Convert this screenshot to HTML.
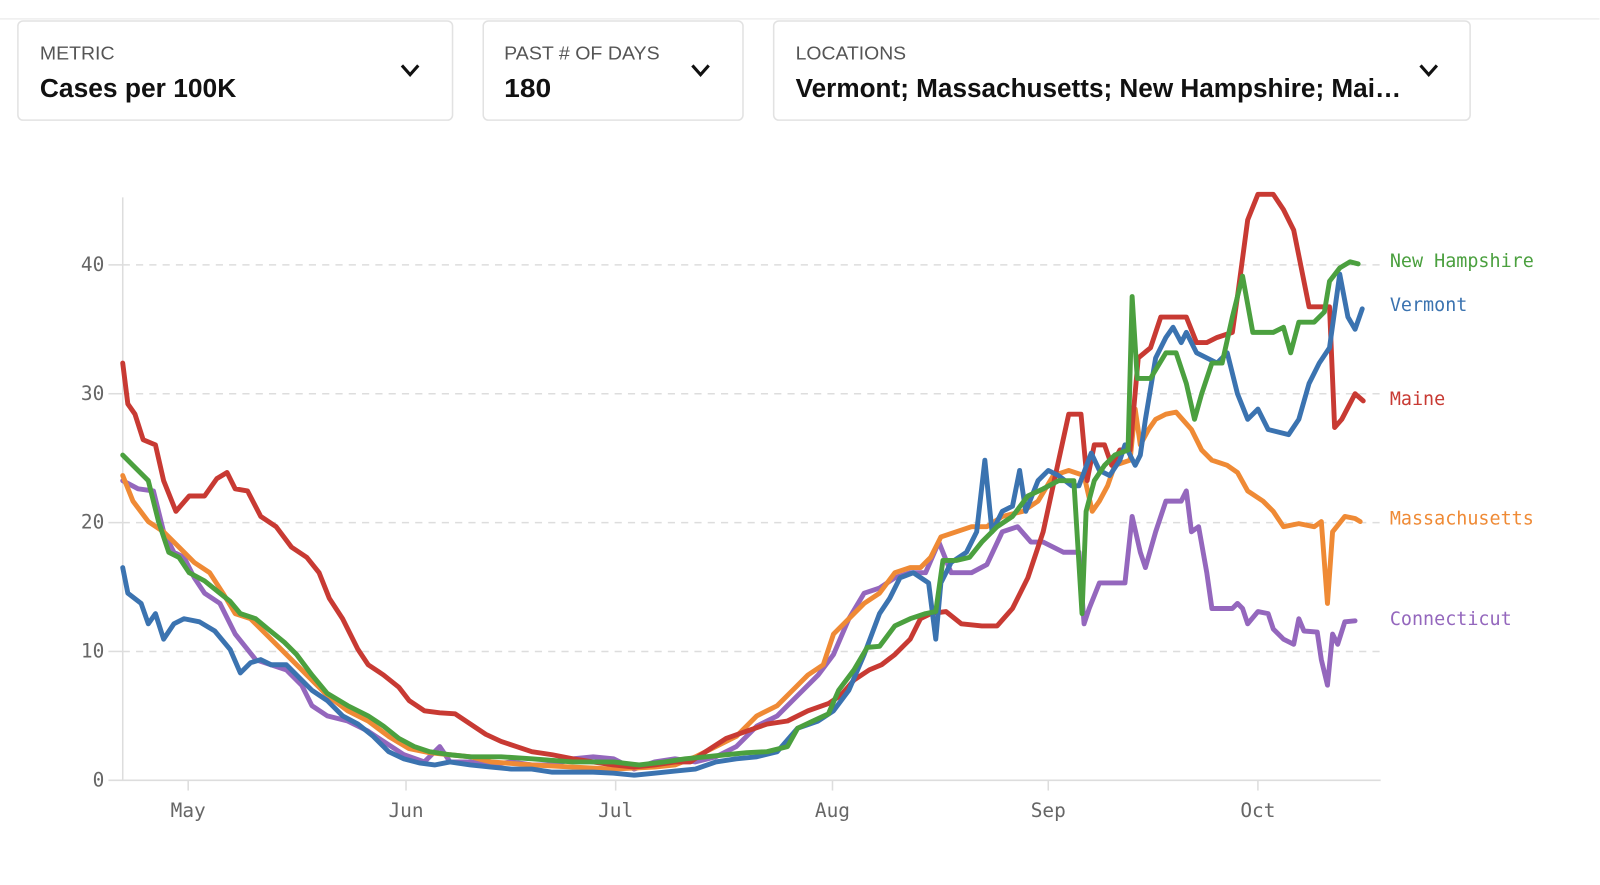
<!DOCTYPE html>
<html><head><meta charset="utf-8"><style>
html,body{margin:0;padding:0;background:#fff;width:1600px;height:885px;overflow:hidden}
#w{transform:scale(1.0227);transform-origin:0 0;width:1564px;height:866px}
</style></head><body><div id="w">
<svg width="1564" height="866" viewBox="0 0 1564 866" xmlns="http://www.w3.org/2000/svg">
<line x1="0" y1="18.5" x2="1564" y2="18.5" stroke="#eee" stroke-width="1.5"/>
<g font-family="Liberation Sans, sans-serif">
<rect x="17.5" y="20.5" width="425" height="97" rx="5" fill="#fff" stroke="#e2e2e2" stroke-width="1.5"/>
<text x="39" y="58" font-size="18" fill="#555" textLength="73" lengthAdjust="spacingAndGlyphs">METRIC</text>
<text x="39" y="95" font-size="25" font-weight="bold" fill="#111" textLength="192" lengthAdjust="spacingAndGlyphs">Cases per 100K</text>
<rect x="472.5" y="20.5" width="254" height="97" rx="5" fill="#fff" stroke="#e2e2e2" stroke-width="1.5"/>
<text x="493" y="58" font-size="18" fill="#555" textLength="152" lengthAdjust="spacingAndGlyphs">PAST # OF DAYS</text>
<text x="493" y="95" font-size="25" font-weight="bold" fill="#111" textLength="46" lengthAdjust="spacingAndGlyphs">180</text>
<rect x="756.5" y="20.5" width="681" height="97" rx="5" fill="#fff" stroke="#e2e2e2" stroke-width="1.5"/>
<text x="778" y="58" font-size="18" fill="#555" textLength="108" lengthAdjust="spacingAndGlyphs">LOCATIONS</text>
<text x="778" y="95" font-size="25" font-weight="bold" fill="#111" textLength="592" lengthAdjust="spacingAndGlyphs">Vermont; Massachusetts; New Hampshire; Mai…</text>
</g>
<g fill="none" stroke="#111" stroke-width="3">
<polyline points="393,64 401,73 409,64"/>
<polyline points="677,64 685,73 693,64"/>
<polyline points="1389,64 1397,73 1405,64"/>
</g>
<g stroke="#ddd" stroke-width="1.5" stroke-dasharray="7,6">
<line x1="120" y1="259" x2="1350" y2="259"/>
<line x1="120" y1="385" x2="1350" y2="385"/>
<line x1="120" y1="511" x2="1350" y2="511"/>
<line x1="120" y1="637" x2="1350" y2="637"/>
</g>
<g stroke="#ddd" stroke-width="1.5">
<line x1="120" y1="193" x2="120" y2="763"/>
<line x1="106" y1="763" x2="1350" y2="763"/>
<line x1="106" y1="259" x2="120" y2="259"/><line x1="106" y1="385" x2="120" y2="385"/>
<line x1="106" y1="511" x2="120" y2="511"/><line x1="106" y1="637" x2="120" y2="637"/>
<line x1="184" y1="763" x2="184" y2="773"/><line x1="397" y1="763" x2="397" y2="773"/>
<line x1="602" y1="763" x2="602" y2="773"/><line x1="814" y1="763" x2="814" y2="773"/>
<line x1="1025" y1="763" x2="1025" y2="773"/><line x1="1230" y1="763" x2="1230" y2="773"/>
</g>
<g font-family="DejaVu Sans Mono, Liberation Mono, monospace" font-size="19" fill="#666">
<g text-anchor="end">
<text x="102" y="265">40</text><text x="102" y="391">30</text><text x="102" y="517">20</text><text x="102" y="643">10</text><text x="102" y="769">0</text>
</g>
<g text-anchor="middle">
<text x="184" y="799">May</text><text x="397" y="799">Jun</text><text x="602" y="799">Jul</text><text x="814" y="799">Aug</text><text x="1025" y="799">Sep</text><text x="1230" y="799">Oct</text>
</g>
</g>
<g fill="none" stroke-width="4.8" stroke-linejoin="round" stroke-linecap="round">
<polyline stroke="#9467bd" points="120,470 135,478 150,480 160,520 170,540 180,545 190,565 200,580 215,590 230,620 250,645 265,650 280,655 295,670 305,690 320,700 340,705 360,715 375,725 395,738 415,745 430,730 440,745 460,745 480,748 500,745 520,748 540,748 560,742 580,740 600,742 620,752 640,745 660,742 680,745 700,740 720,730 740,710 760,700 780,680 800,660 815,640 830,605 845,580 860,575 875,565 890,560 905,560 918,530 930,560 950,560 965,552 980,520 995,515 1008,530 1020,530 1040,540 1055,540 1060,610 1065,595 1075,570 1085,570 1100,570 1107,505 1115,540 1120,555 1130,520 1140,490 1155,490 1160,480 1165,520 1172,515 1180,560 1185,595 1205,595 1210,590 1215,595 1220,610 1230,598 1240,600 1245,615 1255,625 1265,630 1270,605 1275,617 1288,618 1292,645 1298,670 1303,620 1308,630 1315,608 1325,607"/>
<polyline stroke="#ef8a35" points="120,465 130,490 145,510 160,520 175,535 190,550 205,560 218,580 230,600 245,605 260,620 280,640 300,660 320,680 340,695 360,705 380,720 400,732 420,736 440,738 460,740 480,745 520,748 560,750 600,752 640,750 660,748 680,740 700,730 720,720 740,700 760,690 775,675 790,660 805,650 815,620 830,605 845,590 860,580 875,560 890,555 900,555 910,545 920,525 935,520 950,515 965,515 980,505 1000,500 1015,490 1030,465 1045,460 1060,465 1068,500 1075,490 1083,475 1090,455 1105,450 1110,400 1115,435 1123,420 1130,410 1140,405 1150,403 1165,420 1175,440 1185,450 1200,455 1210,462 1220,480 1235,490 1245,500 1255,515 1270,512 1285,515 1292,510 1298,590 1303,520 1315,505 1325,507 1330,510"/>
<polyline stroke="#c83a33" points="120,355 125,395 132,405 140,430 152,435 160,470 172,500 185,485 200,485 212,468 222,462 230,478 242,480 255,505 270,515 285,535 300,545 312,560 322,585 335,605 350,635 360,650 375,660 390,672 400,685 415,695 430,697 445,698 460,708 475,718 490,725 505,730 520,735 540,738 560,742 580,745 600,748 620,750 640,748 660,745 675,745 690,735 710,722 730,715 750,708 770,705 790,695 810,688 822,680 835,665 850,655 862,650 875,640 890,625 900,605 910,600 925,598 940,610 960,612 975,612 990,595 1005,565 1020,520 1033,460 1045,405 1057,405 1063,470 1070,435 1080,435 1087,455 1095,440 1105,440 1113,350 1125,340 1135,310 1160,310 1170,335 1180,335 1190,330 1205,325 1210,290 1220,215 1230,190 1245,190 1255,205 1265,225 1280,300 1290,300 1300,300 1305,418 1312,410 1325,385 1333,392"/>
<polyline stroke="#3b73b0" points="120,555 125,580 138,590 145,610 152,600 160,625 170,610 180,605 195,608 210,617 225,635 235,658 245,648 255,645 265,650 280,650 295,665 305,675 320,685 335,700 350,708 365,720 380,735 395,742 410,746 425,748 440,745 460,748 480,750 500,752 520,752 540,755 560,755 580,755 600,756 620,758 640,756 660,754 680,752 700,745 720,742 740,740 760,735 780,712 800,705 815,695 830,675 845,640 860,600 870,585 880,565 893,560 908,570 915,625 920,570 930,550 945,540 955,520 963,450 970,520 980,500 990,495 997,460 1003,500 1015,470 1025,460 1035,465 1048,475 1055,475 1067,443 1075,460 1085,465 1095,450 1100,435 1110,455 1115,445 1120,410 1130,350 1140,330 1147,320 1155,335 1160,325 1170,345 1180,350 1190,355 1200,345 1210,385 1220,410 1230,400 1240,420 1260,425 1270,410 1280,375 1290,355 1300,340 1310,268 1318,310 1325,322 1332,302"/>
<polyline stroke="#4ba03f" points="120,445 130,455 145,470 155,510 165,540 175,545 185,560 200,568 215,580 225,588 235,600 250,605 262,615 278,628 290,640 305,660 320,678 340,690 360,700 375,710 390,722 405,730 420,735 440,738 460,740 490,740 520,742 560,745 600,745 625,748 650,745 670,742 690,740 710,738 730,736 750,735 770,730 780,712 795,705 810,698 820,675 835,655 848,633 860,632 875,612 890,605 905,600 915,598 922,548 935,548 948,545 960,530 975,515 990,505 1005,485 1020,478 1035,470 1050,470 1058,600 1062,500 1070,470 1080,455 1090,445 1103,440 1107,290 1112,370 1125,370 1140,345 1150,345 1160,375 1168,410 1175,385 1185,355 1195,355 1205,310 1215,270 1225,325 1245,325 1255,320 1262,345 1270,315 1285,315 1295,305 1300,275 1310,262 1320,256 1328,258"/>
</g>
<g font-family="DejaVu Sans Mono, Liberation Mono, monospace" font-size="18">
<text x="1359" y="261" fill="#4ba03f">New Hampshire</text>
<text x="1359" y="304" fill="#3b73b0">Vermont</text>
<text x="1359" y="396" fill="#c83a33">Maine</text>
<text x="1359" y="513" fill="#ef8a35">Massachusetts</text>
<text x="1359" y="611" fill="#9467bd">Connecticut</text>
</g>
</svg>
</div></body></html>
